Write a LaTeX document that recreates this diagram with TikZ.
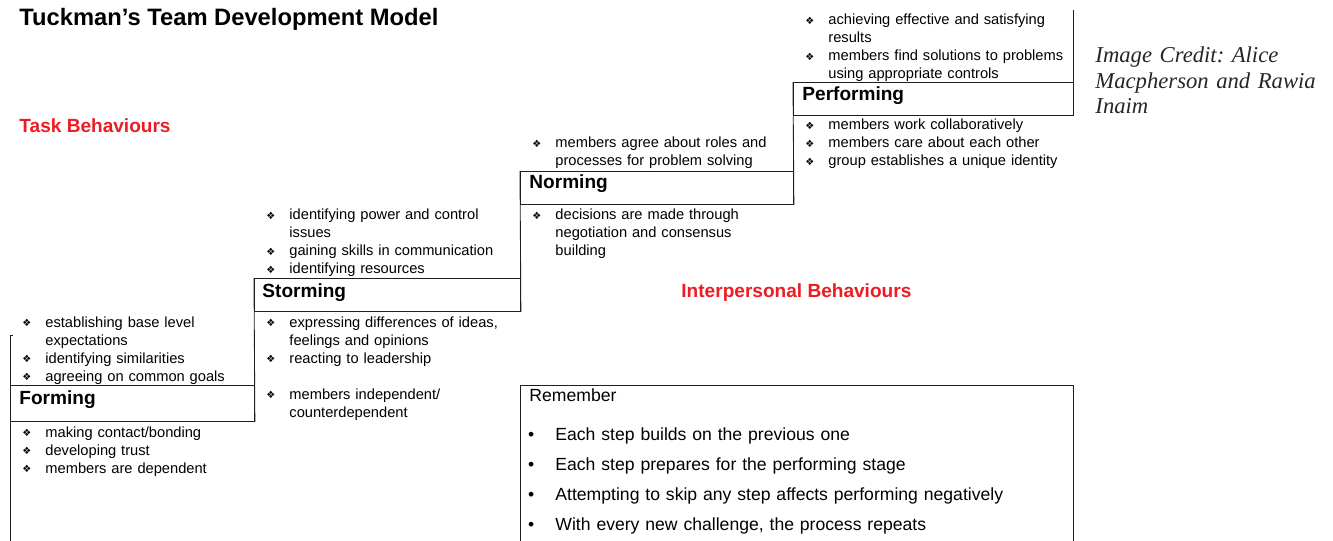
\documentclass[tikz,border=0pt]{standalone}
\usepackage{fontspec}
\setmainfont{Liberation Sans}
\newfontfamily\symfont{DejaVu Sans}
\newfontfamily\creditfont{Liberation Serif}
\definecolor{taskred}{RGB}{237,28,36}
\definecolor{rule}{RGB}{30,30,30}
\newlength\itemind
\setlength\itemind{18pt}
\newcommand\dia{\makebox[\itemind][l]{\hspace{0.75pt}\raisebox{0.5pt}{\fontsize{7.5}{7.5}\symfont ❖}}}
\newcommand\cont{\hspace*{\itemind}}
\newcommand\rdot{\makebox[21pt][l]{\hspace{0.5pt}•}}
\begin{document}
\begin{tikzpicture}[x=0.75pt,y=-0.75pt,line width=0.65pt,draw=rule]
        \tikzstyle{stage}=[draw, anchor=north west, inner sep=0pt, minimum height=24.75pt]
        \tikzstyle{stagename}=[anchor=base west, inner sep=0pt, font=\fontsize{14.3}{17}\selectfont\bfseries]
        \tikzstyle{heading}=[anchor=base west, inner sep=0pt, font=\fontsize{14.3}{17}\selectfont\bfseries, text=taskred]
        \tikzstyle{points}=[anchor=base west, inner sep=0pt, text width=220pt, align=left, font=\fontsize{11}{13.5}\selectfont]
        \useasboundingbox (0,0) rectangle (1333,541);
        \coordinate (top) at (1073,10);
        \coordinate (post) at (10,335);
        \coordinate (floor) at (10,548);
        % the four steps
        \node[stage, minimum width=183pt, minimum height=27pt] (form) at (10,385) {};
        \node[stage, minimum width=199.5pt] (storm) at (254,278) {};
        \node[stage, minimum width=204.75pt] (norm) at (520,171) {};
        \node[stage, minimum width=210pt] (perf) at (793,82) {};
        \draw (storm.north west) -- (form.south east);
        \draw (norm.north west) -- (storm.south east);
        \draw (perf.north west) -- (norm.south east);
        \draw (perf.south east) -- (perf.east |- top);
        \draw ([xshift=2pt]post) -- (post) -- (floor);
        \node[stagename] (formname) at (19,404) {Forming};
        \node[stagename] (stormname) at (262,297) {Storming};
        \node[stagename] (normname) at (529,189) {Norming};
        \node[stagename] (perfname) at (802,101) {Performing};
        % headings
        \node[anchor=base west, inner sep=0pt, font=\fontsize{17.8}{21}\selectfont\bfseries] (title) at (19,26) {Tuckman’s Team Development Model};
        \node[heading] (task) at (19,133) {Task Behaviours};
        \node[heading] (inter) at (681,297) {Interpersonal Behaviours};
        \node[anchor=base west, inner sep=0pt, text width=190pt, align=left, font=\fontsize{17}{19}\creditfont\itshape\frenchspacing, text=black!85] (credit) at (1095,63) {Image Credit: Alice\\Macpherson and Rawia\\Inaim};
        % behaviours above and below each step
        \node[points] (formup) at (21,327) {\dia establishing base level\\\cont expectations\\\dia identifying similarities\\\dia agreeing on common goals};
        \node[points] (formdown) at (21,437) {\dia making contact/bonding\\\dia developing trust\\\dia members are dependent};
        \node[points] (stormup) at (265,220) {\dia identifying power and control\\\cont issues\\\dia gaining skills in communication\\\dia identifying resources};
        \node[points] (stormdown) at (265,327) {\dia expressing differences of ideas,\\\cont feelings and opinions\\\dia reacting to leadership\\[13.5pt]\dia members independent/\\\cont counterdependent};
        \node[points] (normup) at (531,148) {\dia members agree about roles and\\\cont processes for problem solving};
        \node[points] (normdown) at (531,220) {\dia decisions are made through\\\cont negotiation and consensus\\\cont building};
        \node[points] (perfup) at (804,25) {\dia achieving effective and satisfying\\\cont results\\\dia members find solutions to problems\\\cont using appropriate controls};
        \node[points] (perfdown) at (804,130) {\dia members work collaboratively\\\dia members care about each other\\\dia group establishes a unique identity};
        % remember box
        \node[draw, anchor=north west, inner sep=0pt, minimum width=414.75pt, minimum height=130pt] (remember) at (520,385) {};
        \node[anchor=base west, inner sep=0pt, font=\fontsize{13.2}{16}\selectfont] (remtitle) at (529,401) {Remember};
        \node[anchor=base west, inner sep=0pt, text width=400pt, align=left, font=\fontsize{13.2}{22.5}\selectfont] (remlist) at (527,440) {\rdot Each step builds on the previous one\\\rdot Each step prepares for the performing stage\\\rdot Attempting to skip any step affects performing negatively\\\rdot With every new challenge, the process repeats};
    \end{tikzpicture}
\end{document}
